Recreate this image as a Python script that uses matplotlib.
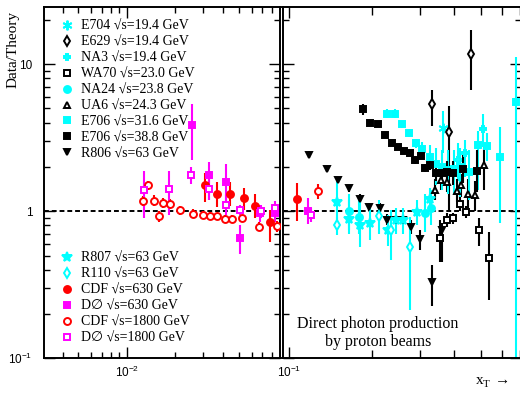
import numpy as np
import matplotlib
matplotlib.use("Agg")
import matplotlib.pyplot as plt
from matplotlib.lines import Line2D
from matplotlib.ticker import FixedLocator, NullFormatter, FixedFormatter

plt.rcParams["mathtext.fontset"] = "custom"
plt.rcParams["mathtext.rm"] = "Liberation Sans"
plt.rcParams["mathtext.it"] = "Liberation Sans"
SERIF = ["Liberation Serif", "DejaVu Serif", "DejaVu Sans"]
SANS = ["Liberation Sans", "DejaVu Sans"]

CYAN = "#00ffff"
MAGENTA = "#ff00ff"
RED = "#ff0000"
BLACK = "#000000"

# ---- data: x_T, data/theory, lower and upper error limits ----
e704_x = [0.364]
e704_y = [3.71]
e704_lo = [2.47]
e704_hi = [4.80]

e629_x = [0.332, 0.384, 0.460]
e629_y = [5.32, 3.46, 11.8]
e629_lo = [3.79, 1.00, 6.65]
e629_hi = [6.72, 5.18, 17.0]

na3_x = [0.4145, 0.4385, 0.509]
na3_y = [2.22, 2.47, 3.65]
na3_lo = [1.60, 1.71, 2.74]
na3_hi = [2.90, 3.04, 4.62]

wa70_x = [0.355, 0.376, 0.397, 0.4205, 0.442, 0.493, 0.535]
wa70_y = [0.658, 0.878, 0.900, 1.128, 0.989, 0.743, 0.484]
wa70_lo = [0.452, 0.780, 0.820, 1.000, 0.900, 0.580, 0.248]
wa70_hi = [0.868, 0.970, 0.980, 1.270, 1.090, 0.900, 0.720]

na24_x = [0.165, 0.180, 0.313, 0.330]
na24_y = [1.00, 0.915, 0.98, 1.05]
na24_lo = [0.75, 0.70, 0.72, 0.80]
na24_hi = [1.30, 1.20, 1.30, 1.40]

ua6_x = [0.340, 0.3585, 0.376, 0.409, 0.4227, 0.4505, 0.476, 0.516]
ua6_y = [1.405, 1.64, 1.58, 1.375, 1.50, 1.32, 1.285, 2.06]
ua6_lo = [1.20, 1.40, 1.35, 1.15, 1.25, 1.05, 1.00, 1.39]
ua6_hi = [1.65, 1.90, 1.85, 1.65, 1.80, 1.65, 1.60, 2.74]

e706a_x = [0.227, 0.243, 0.259, 0.2745, 0.290, 0.306, 0.3266, 0.345, 0.362,
           0.380, 0.400, 0.420, 0.455, 0.488, 0.529, 0.591, 0.673]
e706a_y = [4.62, 4.62, 3.89, 3.38, 2.91, 2.63, 2.34, 2.10, 2.00,
           1.90, 1.95, 2.00, 1.85, 2.81, 2.77, 2.32, 5.54]
e706a_lo = [4.30, 4.30, 3.70, 3.20, 2.70, 2.30, 1.90, 1.50, 1.40,
            1.30, 1.30, 1.25, 1.20, 1.40, 2.20, 0.83, 0.05]
e706a_hi = [4.95, 4.95, 4.10, 3.60, 3.10, 2.95, 2.80, 2.70, 2.60,
            2.60, 2.60, 2.70, 2.60, 3.50, 3.40, 3.74, 11.2]

e706b_x = [0.186, 0.198, 0.2113, 0.2244, 0.237, 0.2495, 0.2624, 0.276, 0.2878,
           0.302, 0.314, 0.3274, 0.3436, 0.3605, 0.376, 0.3956, 0.4325, 0.484]
e706b_y = [4.92, 4.01, 3.91, 3.30, 2.89, 2.72, 2.56, 2.50, 2.22,
           2.39, 1.98, 2.07, 1.82, 1.81, 1.85, 1.81, 1.95, 1.88]
e706b_lo = [4.50, 3.85, 3.76, 3.17, 2.78, 2.61, 2.45, 2.38, 2.10,
            2.25, 1.85, 1.92, 1.60, 1.55, 1.55, 1.50, 1.55, 1.35]
e706b_hi = [5.40, 4.17, 4.06, 3.43, 3.00, 2.83, 2.67, 2.62, 2.34,
            2.53, 2.11, 2.22, 2.05, 2.10, 2.20, 2.20, 2.40, 2.60]

r806_x = [0.118, 0.1376, 0.150, 0.165, 0.1816, 0.196, 0.2145, 0.227, 0.2455,
          0.261, 0.2785, 0.300, 0.333, 0.3605]
r806_y = [2.43, 1.93, 1.62, 1.43, 1.21, 1.07, 1.06, 0.878, 0.868,
          0.878, 0.782, 0.652, 0.330, 0.750]
r806_lo = [2.30, 1.85, 1.55, 1.36, 1.13, 1.00, 0.99, 0.80, 0.80,
           0.80, 0.70, 0.543, 0.226, 0.45]
r806_hi = [2.56, 2.01, 1.69, 1.50, 1.30, 1.14, 1.13, 0.96, 0.94,
           0.96, 0.87, 0.74, 0.43, 0.83]

r807_x = [0.149, 0.1657, 0.181, 0.197, 0.229, 0.2455, 0.261, 0.292, 0.327]
r807_y = [1.157, 0.886, 0.812, 0.826, 0.750, 0.868, 0.868, 0.989, 1.22]
r807_lo = [0.868, 0.700, 0.572, 0.640, 0.580, 0.700, 0.700, 0.800, 1.00]
r807_hi = [1.600, 1.200, 1.250, 1.050, 0.950, 1.050, 1.050, 1.200, 1.45]

r110_x = [0.1497, 0.2125, 0.2354, 0.276]
r110_y = [0.812, 0.925, 0.750, 0.572]
r110_lo = [0.687, 0.700, 0.465, 0.212]
r110_hi = [0.915, 1.200, 1.027, 0.915]

cdf630_x = [0.0306, 0.0367, 0.044, 0.0536, 0.0633, 0.0778, 0.1064]
cdf630_y = [1.51, 1.32, 1.30, 1.226, 1.093, 0.842, 1.207]
cdf630_lo = [1.16, 1.07, 1.08, 1.02, 0.90, 0.618, 0.859]
cdf630_hi = [1.81, 1.58, 1.58, 1.45, 1.30, 1.016, 1.56]

d0630_x = [0.0254, 0.0324, 0.0418, 0.0506, 0.0678, 0.0843, 0.117]
d0630_y = [3.85, 1.76, 1.59, 0.662, 0.974, 0.975, 1.00]
d0630_lo = [2.22, 1.19, 1.07, 0.516, 0.85, 0.85, 0.816]
d0630_hi = [5.40, 2.17, 2.09, 0.800, 1.10, 1.12, 1.24]

cdf1800_x = [0.01264, 0.01364, 0.01472, 0.0159, 0.01683, 0.01853, 0.0215, 0.0259, 0.0300,
             0.0332, 0.0367, 0.0408, 0.0451, 0.0525, 0.0667, 0.0861, 0.127]
cdf1800_y = [1.175, 1.50, 1.18, 0.925, 1.146, 1.128, 1.016, 0.965, 0.950,
             0.935, 0.925, 0.892, 0.892, 0.896, 0.782, 0.790, 1.375]
cdf1800_lo = [1.08, 1.40, 1.09, 0.85, 1.06, 1.04, 0.95, 0.90, 0.89,
              0.88, 0.87, 0.84, 0.84, 0.84, 0.73, 0.72, 1.22]
cdf1800_hi = [1.27, 1.60, 1.28, 1.00, 1.24, 1.22, 1.08, 1.03, 1.01,
              0.99, 0.98, 0.95, 0.95, 0.95, 0.84, 0.86, 1.54]

d01800_x = [0.0128, 0.0184, 0.0252, 0.0327, 0.0418, 0.0506, 0.069, 0.0843, 0.1197]
d01800_y = [1.39, 1.41, 1.77, 1.41, 1.10, 1.027, 1.00, 1.06, 0.94]
d01800_lo = [0.906, 0.939, 1.54, 1.19, 0.95, 0.95, 0.90, 0.95, 0.85]
d01800_hi = [1.87, 1.88, 2.00, 1.68, 1.30, 1.10, 1.10, 1.17, 1.05]

# label, x, y, lo, hi, marker, color, filled
series = [
    ("E704 √s=19.4 GeV", e704_x, e704_y, e704_lo, e704_hi, (6, 2, 0), CYAN, True),
    ("E629 √s=19.4 GeV", e629_x, e629_y, e629_lo, e629_hi, "d", BLACK, False),
    ("NA3 √s=19.4 GeV", na3_x, na3_y, na3_lo, na3_hi, "P", CYAN, False),
    ("WA70 √s=23.0 GeV", wa70_x, wa70_y, wa70_lo, wa70_hi, "s", BLACK, False),
    ("NA24 √s=23.8 GeV", na24_x, na24_y, na24_lo, na24_hi, "o", CYAN, True),
    ("UA6 √s=24.3 GeV", ua6_x, ua6_y, ua6_lo, ua6_hi, "^", BLACK, False),
    ("E706 √s=31.6 GeV", e706a_x, e706a_y, e706a_lo, e706a_hi, "s", CYAN, True),
    ("E706 √s=38.8 GeV", e706b_x, e706b_y, e706b_lo, e706b_hi, "s", BLACK, True),
    ("R806 √s=63 GeV", r806_x, r806_y, r806_lo, r806_hi, "v", BLACK, True),
    ("R807 √s=63 GeV", r807_x, r807_y, r807_lo, r807_hi, "*", CYAN, True),
    ("R110 √s=63 GeV", r110_x, r110_y, r110_lo, r110_hi, "d", CYAN, False),
    ("CDF √s=630 GeV", cdf630_x, cdf630_y, cdf630_lo, cdf630_hi, "o", RED, True),
    ("D∅ √s=630 GeV", d0630_x, d0630_y, d0630_lo, d0630_hi, "s", MAGENTA, True),
    ("CDF √s=1800 GeV", cdf1800_x, cdf1800_y, cdf1800_lo, cdf1800_hi, "o", RED, False),
    ("D∅ √s=1800 GeV", d01800_x, d01800_y, d01800_lo, d01800_hi, "s", MAGENTA, False),
]

W, H = 520, 393
fig = plt.figure(figsize=(W / 100, H / 100), dpi=100)
top, bottom = 6.7, 358.3
ax_l = fig.add_axes([43.7 / W, (H - bottom) / H, (279.5 - 43.7) / W, (bottom - top) / H])
ax_r = fig.add_axes([282.5 / W, (H - bottom) / H, (520.5 - 282.5) / W, (bottom - top) / H])

ax_l.set_xlim(0.00304, 0.0896)
ax_r.set_xlim(0.0944, 0.70)

y_major = [0.1, 1, 10]
y_minor = [0.2, 0.3, 0.4, 0.5, 0.6, 0.7, 0.8, 0.9, 2, 3, 4, 5, 6, 7, 8, 9, 20]


def msize(mk):
    return 7 if mk == (6, 2, 0) or mk == "*" else 5


for ax in (ax_l, ax_r):
    ax.set_xscale("log")
    ax.set_yscale("log")
    ax.set_ylim(0.1, 24.6)
    ax.axhline(1.0, color="black", lw=1.4, ls=(0, (2.5, 1.5)), zorder=1)
    for lab, x, y, lo, hi, mk, col, filled in series:
        x = np.array(x)
        y = np.array(y)
        yerr = [y - np.array(lo), np.array(hi) - y]
        ax.errorbar(x, y, yerr=yerr, fmt="none", ecolor=col, elinewidth=1.5,
                    capsize=0, zorder=2)
        ax.plot(x, y, ls="none", marker=mk, ms=msize(mk), color=col,
                mfc=col if filled else "white", mec=col, mew=1.4, zorder=3)
    ax.yaxis.set_major_locator(FixedLocator(y_major))
    ax.yaxis.set_minor_locator(FixedLocator(y_minor))
    ax.yaxis.set_minor_formatter(NullFormatter())
    ax.xaxis.set_minor_formatter(NullFormatter())
    ax.tick_params(which="both", direction="in", top=True, right=True, width=1)
    ax.tick_params(which="major", length=8)
    ax.tick_params(which="minor", length=4.5)
    for sp in ax.spines.values():
        sp.set_linewidth(1.4)

ax_l.xaxis.set_major_locator(FixedLocator([0.01]))
ax_l.xaxis.set_minor_locator(FixedLocator([0.003, 0.004, 0.005, 0.006, 0.007, 0.008, 0.009,
                                           0.02, 0.03, 0.04, 0.05, 0.06, 0.07, 0.08]))
ax_l.xaxis.set_major_formatter(FixedFormatter([r"$10^{-2}$"]))
ax_l.yaxis.set_major_formatter(FixedFormatter([r"$10^{-1}$", "1", "10"]))

ax_r.xaxis.set_major_locator(FixedLocator([0.1]))
ax_r.xaxis.set_minor_locator(FixedLocator([0.2, 0.3, 0.4, 0.5, 0.6, 0.7]))
ax_r.xaxis.set_major_formatter(FixedFormatter([r"$10^{-1}$"]))
ax_r.tick_params(which="minor", axis="x", length=6)
ax_r.yaxis.set_major_formatter(NullFormatter())

for ax in (ax_l, ax_r):
    for t in ax.get_xticklabels() + ax.get_yticklabels():
        t.set_fontfamily(SANS)
        t.set_fontsize(8.5)
    ax.tick_params(axis="x", pad=5)
    ax.tick_params(axis="y", pad=8)


# legends (markers only)
def handle(mk, col, filled):
    return Line2D([], [], ls="none", marker=mk, ms=msize(mk), color=col,
                  mfc=col if filled else "white", mec=col, mew=1.4)


handles = [handle(s[5], s[6], s[7]) for s in series]
labels = [s[0] for s in series]
leg_kw = dict(frameon=False, handlelength=1.0, handletextpad=0.5, borderpad=0,
              borderaxespad=0, labelspacing=0.21, loc="upper left",
              prop={"family": SERIF, "size": 10})
leg1 = ax_l.legend(handles[:9], labels[:9], bbox_to_anchor=(0.068, 0.9626), **leg_kw)
ax_l.add_artist(leg1)
ax_l.legend(handles[9:], labels[9:], bbox_to_anchor=(0.068, 0.302), **leg_kw)

fig.text(13 / W, 1 - 50 / H, "Data/Theory", rotation=90, ha="center", va="center",
         family=SERIF, fontsize=11)
fig.text(377.7 / W, 1 - 333 / H, "Direct photon production\nby proton beams",
         ha="center", va="center", family=SERIF, fontsize=11.5, linespacing=1.1)
# x_T axis label with arrow
fig.text(480 / W, 1 - 384 / H, "x", ha="center", va="baseline", family=SERIF, fontsize=11)
fig.text(486 / W, 1 - 387 / H, "T", ha="center", va="baseline", family=SERIF, fontsize=8)
fig.text(503 / W, 1 - 384 / H, "→", ha="center", va="baseline", family=SERIF, fontsize=11)

fig.savefig("out.png", dpi=100)
